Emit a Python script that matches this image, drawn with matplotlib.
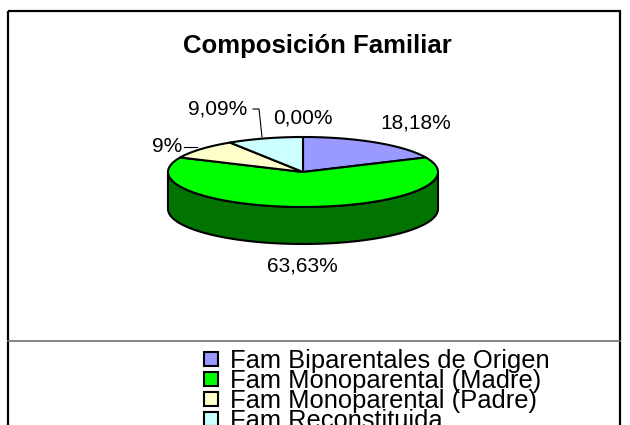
import numpy as np
import matplotlib
matplotlib.use("Agg")
import matplotlib.pyplot as plt
from matplotlib.patches import Polygon, Rectangle

plt.rcParams['font.family'] = ['Liberation Sans', 'DejaVu Sans']

# Datos
categorias = ["Fam Biparentales de Origen", "Fam Monoparental (Madre)",
              "Fam Monoparental (Padre)", "Fam Reconstituida", "Otros"]
valores = [18.18, 63.63, 9.09, 9.09, 0.0]
etiquetas = ["18,18%", "63,63%", "9%", "9,09%", "0,00%"]
colores = ["#9999FF", "#00FF00", "#FFFFCC", "#CCFFFF", "#660066"]
titulo = "Composición Familiar"

# Geometría del pastel 3D (en píxeles)
cx, cy = 303, 172
rx, ry = 135, 35
prof = 37


def oscurecer(c, f=0.45):
    r, g, b = matplotlib.colors.to_rgb(c)
    return (r * f, g * f, b * f)


def punto(theta, dy=0):
    t = np.radians(theta)
    return cx + rx * np.sin(t), cy - ry * np.cos(t) + dy


fig = plt.figure(figsize=(6.3, 4.25), dpi=100)
ax = fig.add_axes([0, 0, 1, 1])
ax.set_xlim(0, 630)
ax.set_ylim(425, 0)
ax.axis('off')

# Marco del gráfico
ax.add_patch(Rectangle((8, 11), 612, 430, fill=False, ec='black', lw=1.6))
ax.plot([8, 620], [341, 341], color='#707070', lw=1.2)

total = sum(valores)
angulos = np.concatenate([[0], np.cumsum(valores) / total * 360])

# Paredes laterales (parte frontal)
for i in range(len(valores)):
    a, b = angulos[i], angulos[i + 1]
    lo, hi = max(a, 90), min(b, 270)
    if hi <= lo:
        continue
    th = np.linspace(lo, hi, 100)
    arriba = [punto(t) for t in th]
    abajo = [punto(t, prof) for t in th[::-1]]
    ax.add_patch(Polygon(arriba + abajo, closed=True, fc=oscurecer(colores[i]),
                         ec='black', lw=1.5, joinstyle='round'))

# Cara superior
for i in range(len(valores)):
    a, b = angulos[i], angulos[i + 1]
    if b - a <= 0:
        continue
    th = np.linspace(a, b, 120)
    pts = [(cx, cy)] + [punto(t) for t in th]
    ax.add_patch(Polygon(pts, closed=True, fc=colores[i], ec='black',
                         lw=1.5, joinstyle='round'))

# Etiquetas de datos
pos_etiquetas = [(416, 123), (302, 266), (167, 147), (218, 109), (303, 118)]
for (x, y), txt in zip(pos_etiquetas, etiquetas):
    ax.text(x, y, txt, ha='center', va='center', fontsize=15)

# Líneas guía
ax.plot([184, 197], [147, 147], color='black', lw=0.8)
ax.plot([253, 259, 262], [109, 109, 137], color='black', lw=0.8)

# Título
ax.text(317, 46, titulo, ha='center', va='center', fontsize=18.5, fontweight='bold')

# Leyenda
for i, (nombre, col) in enumerate(zip(categorias, colores)):
    y0 = 352 + 20 * i
    ax.add_patch(Rectangle((204, y0), 14, 14, fc=col, ec='black', lw=1.5))
    ax.text(230, y0 + 16, nombre, ha='left', va='baseline', fontsize=18.4)

fig.savefig("out.png", dpi=100)
